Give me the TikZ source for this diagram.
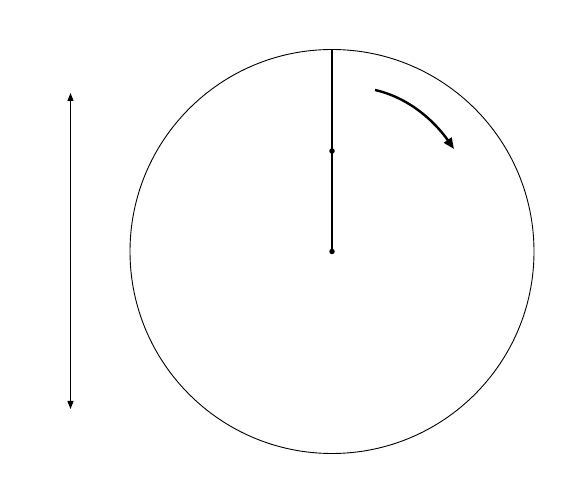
\documentclass[tikz,border=0pt]{standalone}
\usetikzlibrary{arrows.meta}
\begin{document}
\begin{tikzpicture}[x=1pt,y=1pt,
  thinline/.style={line width=0.9pt},
  stem/.style={line width=1.3pt},
  dotmark/.style={fill=black,circle,inner sep=0pt,minimum size=5.5pt},
  rotarrow/.style={line width=2.4pt,-{Triangle[length=11pt,width=9pt]}},
  dimarrow/.style={line width=1.2pt,{Triangle[length=8pt,width=6pt]}-{Triangle[length=8pt,width=6pt]}}]
\useasboundingbox (0,0) rectangle (583,503);
\coordinate (c) at (332,251.5);
\draw[thinline] (c) circle (202);
\coordinate (top) at (332,454);
\node[dotmark] (mid) at (332,352) {};
\node[dotmark] (ctr) at (c) {};
\draw[stem] (top) -- (ctr.center);
\coordinate (as) at (375,413);
\coordinate (ae) at (454,354);
\draw[rotarrow] (as) .. controls (410,405) and (435,381) .. (ae);
\coordinate (lt) at (70.5,410);
\coordinate (lb) at (70.5,94);
\draw[dimarrow] (lb) -- (lt);
\end{tikzpicture}
\end{document}
